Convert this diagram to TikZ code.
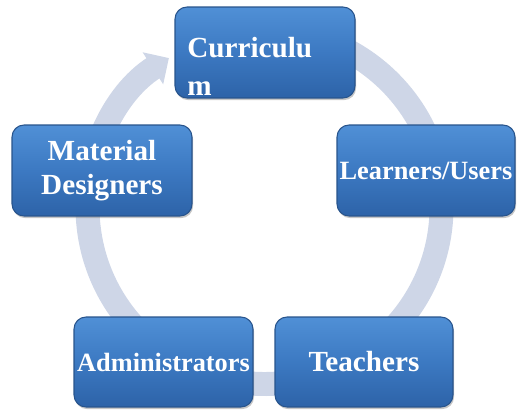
\documentclass[tikz,border=0pt]{standalone}
\usepackage{fontspec}
\setmainfont{Liberation Serif}
\usetikzlibrary{arrows.meta,shadows}

\definecolor{ringgray}{RGB}{206,214,231}
\definecolor{boxtop}{RGB}{80,144,214}
\definecolor{boxmid}{RGB}{60,121,194}
\definecolor{boxbot}{RGB}{45,99,168}
\definecolor{boxedge}{RGB}{40,84,140}

\tikzset{
  cyclebox/.style={rectangle, rounded corners=0.24cm, draw=boxedge, line width=0.6pt,
    top color=boxtop, bottom color=boxbot, middle color=boxmid,
    minimum width=3.6cm, minimum height=1.82cm, inner sep=1pt,
    text=white, align=center,
    drop shadow={opacity=0.45, shadow xshift=0.6pt, shadow yshift=-1.2pt}},
  bigtext/.style={font=\fontsize{16.6}{19.8}\selectfont\bfseries},
  smalltext/.style={font=\fontsize{15}{18}\selectfont\bfseries},
  ring/.style={ringgray, line width=0.48cm}
}

\begin{document}
\begin{tikzpicture}[x=0.02cm, y=0.02cm]
\useasboundingbox (0,0) rectangle (517,410);

% centre of the cycle
\coordinate (centre) at (264.5,203);

% grey ring with its arrow, behind the boxes
\draw [ring, -{Triangle[length=0.38cm, width=0.74cm]}] ([shift={(95:177)}]centre)
      arc [start angle=95, end angle=-237.3, radius=177];

% box Curriculum (text runs out of the box)
\node [cyclebox] (cur) at (265,357.5) {};
\node [font=\fontsize{16.6}{21.5}\selectfont\bfseries, text=white, align=left,
       anchor=north west, inner sep=0pt] (curtxt) at (187,373) {Curriculu\\m};

% box Learners/Users
\node [cyclebox, smalltext, minimum width=3.56cm] (lrn) at (426,239.5) {Learners/Users};

% box Teachers
\node [cyclebox, bigtext, minimum width=3.56cm, minimum height=1.8cm] (tch) at (364,48) {Teachers};

% box Administrators
\node [cyclebox, smalltext, minimum width=3.58cm, minimum height=1.8cm] (adm) at (163.5,48) {Administrators};

% box Material Designers
\node [cyclebox, bigtext] (mat) at (102,239.5) {Material\\Designers};

\end{tikzpicture}
\end{document}
